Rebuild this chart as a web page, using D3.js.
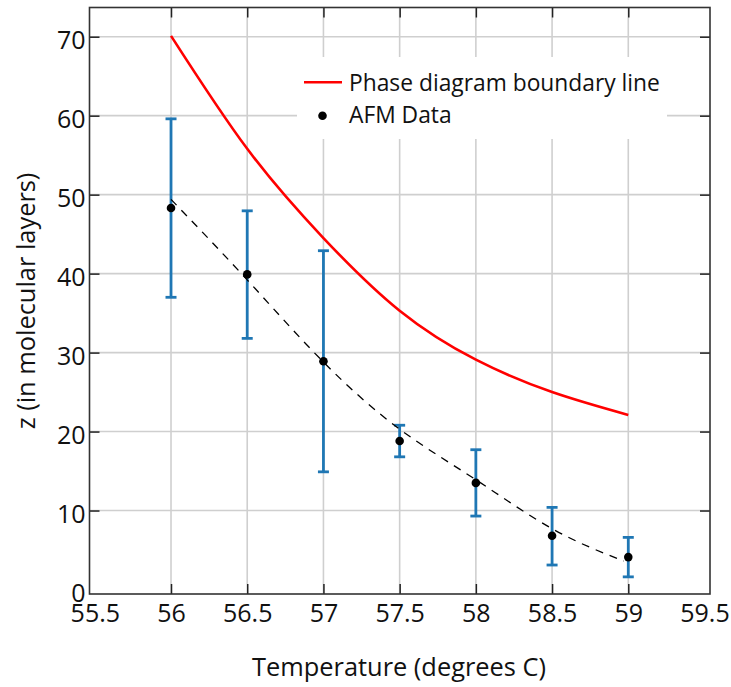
<!DOCTYPE html>
<html>
<head>
<meta charset="utf-8">
<script src="https://cdn.jsdelivr.net/npm/d3@7"></script>
<style>
  html, body { margin: 0; padding: 0; background: #fff; }
  svg { display: block; font-family: "Open Sans", sans-serif; }
</style>
</head>
<body>
<svg id="chart" width="731" height="687"></svg>
<script>
// ---- data ----
const temps = [56, 56.5, 57, 57.5, 58, 58.5, 59];
const afmValues = [48.3, 39.9, 28.9, 18.8, 13.5, 6.8, 4.1];
const afmUpper  = [59.6, 47.95, 42.9, 20.8, 17.7, 10.4, 6.6];
const afmLower  = [37.0, 31.8, 14.9, 16.8, 9.3, 3.1, 1.6];
const boundaryValues = [70.1, 55.8, 44.5, 35.3, 29.1, 25.0, 22.1];
const fitTemps  = [56, 56.5, 57, 57.5, 58, 58.5, 58.97];
const fitValues = [49.4, 39.2, 28.8, 20.3, 13.9, 7.7, 3.6];
const xTicks = [55.5, 56, 56.5, 57, 57.5, 58, 58.5, 59, 59.5];
const yTicks = [0, 10, 20, 30, 40, 50, 60, 70];
const legendLabels = ["Phase diagram boundary line", "AFM Data"];
const xTitle = "Temperature (degrees C)";
const yTitle = "z (in molecular layers)";

// ---- layout ----
const frame = { left: 89.5, right: 710, top: 7.5, bottom: 594 };
const svg = d3.select("#chart");
const x = d3.scaleLinear().domain([55.5, 59.5]).range([94.8, 704.5]);
const y = d3.scaleLinear().domain([0, 70]).range([589.5, 36.7]);
const fmt = d => String(d);

// grid
const grid = svg.append("g");
grid.selectAll("line.vx").data(xTicks.filter(t => t > 55.5 && t < 59.5)).join("line")
  .attr("x1", d => x(d)).attr("x2", d => x(d))
  .attr("y1", frame.top).attr("y2", frame.bottom)
  .attr("stroke", "#cfcfcf").attr("stroke-width", 1.6);
grid.selectAll("line.hy").data(yTicks.filter(t => t > 0)).join("line")
  .attr("x1", frame.left).attr("x2", frame.right)
  .attr("y1", d => y(d)).attr("y2", d => y(d))
  .attr("stroke", "#cfcfcf").attr("stroke-width", 1.6);

// legend background (covers gridlines)
svg.append("rect").attr("x", 297).attr("y", 57).attr("width", 370).attr("height", 82)
  .attr("fill", "#fff");

// axes with inward ticks on all four sides
const tickLen = 10;
const axB = svg.append("g").attr("transform", `translate(0,${frame.bottom})`)
  .call(d3.axisBottom(x).tickValues(xTicks).tickFormat(fmt).tickSizeInner(-tickLen).tickSizeOuter(0).tickPadding(10));
const axT = svg.append("g").attr("transform", `translate(0,${frame.top})`)
  .call(d3.axisTop(x).tickValues(xTicks).tickFormat("").tickSizeInner(-tickLen).tickSizeOuter(0));
const axL = svg.append("g").attr("transform", `translate(${frame.left},0)`)
  .call(d3.axisLeft(y).tickValues(yTicks).tickFormat(fmt).tickSizeInner(-tickLen).tickSizeOuter(0).tickPadding(4));
const axR = svg.append("g").attr("transform", `translate(${frame.right},0)`)
  .call(d3.axisRight(y).tickValues(yTicks).tickFormat("").tickSizeInner(-tickLen).tickSizeOuter(0));
[axB, axT, axL, axR].forEach(a => {
  a.select(".domain").remove();
  a.selectAll(".tick line").attr("stroke", "#222").attr("stroke-width", 1.5);
  a.selectAll(".tick text").attr("font-size", 25).attr("fill", "#111")
    .attr("font-family", "'Open Sans', sans-serif");
});
axL.selectAll(".tick text").attr("dy", "0.46em");
// hide ticks at edges that coincide with frame
[axB, axT].forEach(a => a.selectAll(".tick line").filter(d => d === 55.5 || d === 59.5).remove());
[axL, axR].forEach(a => a.selectAll(".tick line").filter(d => d === 0).remove());

// frame
svg.append("rect").attr("x", frame.left).attr("y", frame.top)
  .attr("width", frame.right - frame.left).attr("height", frame.bottom - frame.top)
  .attr("fill", "none").attr("stroke", "#333").attr("stroke-width", 1.6);

// boundary line
svg.append("path")
  .datum(temps.map((t, i) => [t, boundaryValues[i]]))
  .attr("d", d3.line().x(d => x(d[0])).y(d => y(d[1])).curve(d3.curveNatural))
  .attr("fill", "none").attr("stroke", "#ff0000").attr("stroke-width", 2.6);

// error bars
const eb = svg.append("g").attr("stroke", "#1f77b4").attr("stroke-width", 2.8);
temps.forEach((t, i) => {
  eb.append("line").attr("x1", x(t)).attr("x2", x(t)).attr("y1", y(afmUpper[i])).attr("y2", y(afmLower[i]));
  eb.append("line").attr("x1", x(t) - 5.5).attr("x2", x(t) + 5.5).attr("y1", y(afmUpper[i])).attr("y2", y(afmUpper[i]));
  eb.append("line").attr("x1", x(t) - 5.5).attr("x2", x(t) + 5.5).attr("y1", y(afmLower[i])).attr("y2", y(afmLower[i]));
});

// dashed fit curve
svg.append("path")
  .datum(fitTemps.map((t, i) => [t, fitValues[i]]))
  .attr("d", d3.line().x(d => x(d[0])).y(d => y(d[1])).curve(d3.curveNatural))
  .attr("fill", "none").attr("stroke", "#000").attr("stroke-width", 1.3)
  .attr("stroke-dasharray", "8,7");

// points
svg.append("g").selectAll("circle").data(temps).join("circle")
  .attr("cx", d => x(d)).attr("cy", (d, i) => y(afmValues[i])).attr("r", 4.3).attr("fill", "#000");

// legend
const lg = svg.append("g");
lg.append("line").attr("x1", 304).attr("x2", 342).attr("y1", 82.3).attr("y2", 82.3)
  .attr("stroke", "#ff0000").attr("stroke-width", 2.6);
lg.append("circle").attr("cx", 322.5).attr("cy", 115.7).attr("r", 4.3).attr("fill", "#000");
lg.selectAll("text").data(legendLabels).join("text")
  .attr("x", 349).attr("y", (d, i) => 90.7 + i * 32.6)
  .attr("font-size", 22.8).attr("fill", "#111").text(d => d);

// axis titles
svg.append("text").attr("x", 399).attr("y", 676).attr("text-anchor", "middle")
  .attr("font-size", 25.4).attr("fill", "#111").text(xTitle);
svg.append("text").attr("transform", "translate(35,301) rotate(-90)").attr("text-anchor", "middle")
  .attr("font-size", 25.4).attr("fill", "#111").text(yTitle);
</script>
</body>
</html>
